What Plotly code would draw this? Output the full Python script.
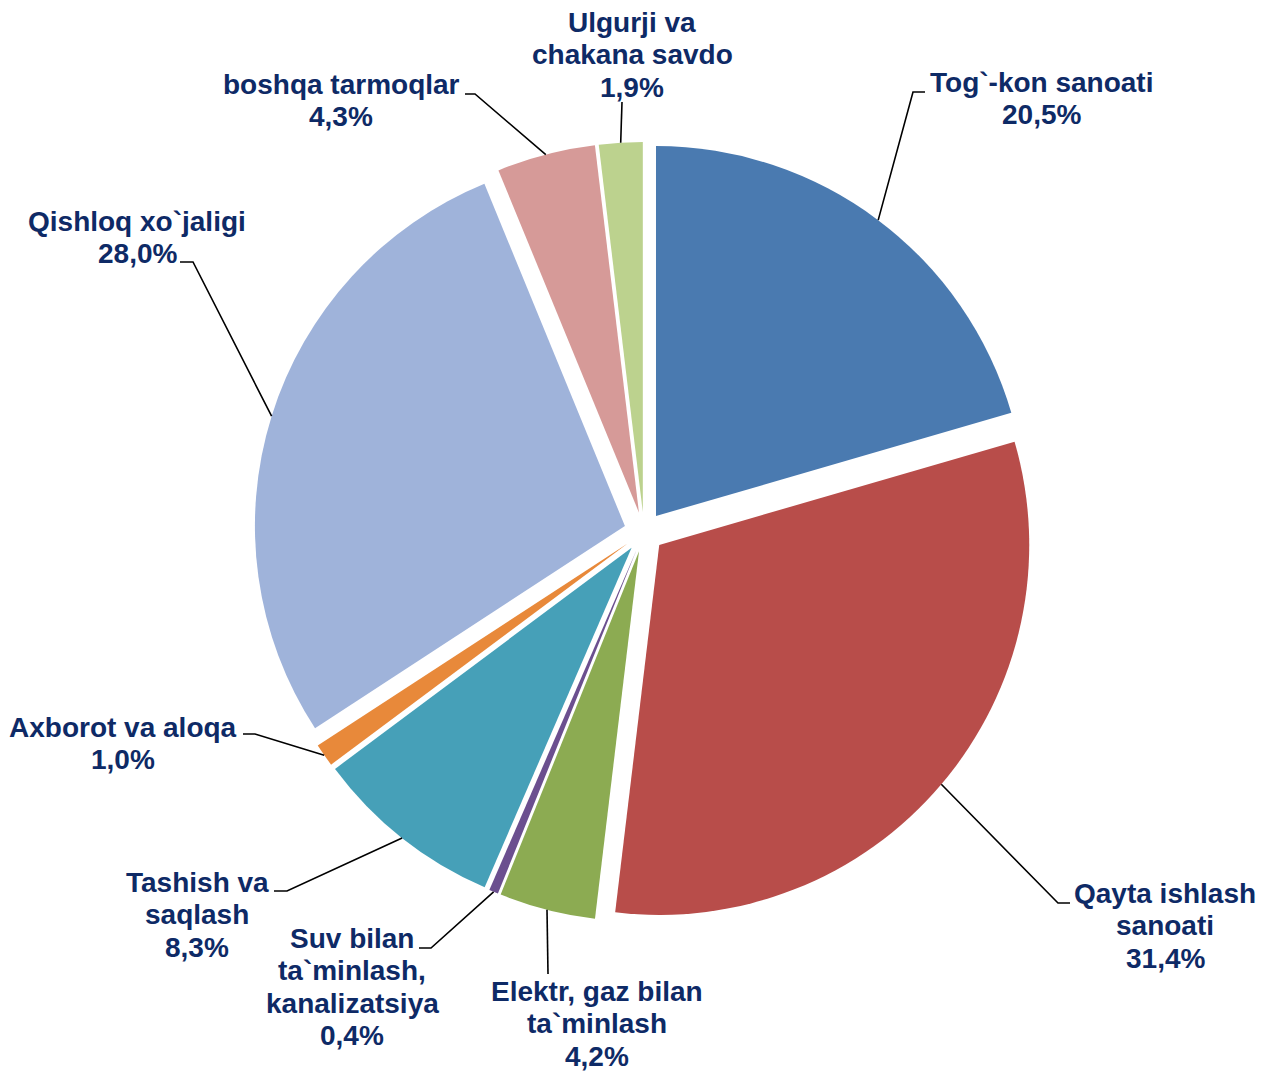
import math
import plotly.graph_objects as go

# ---------------- data ----------------
categories = [
    "Tog`-kon sanoati",
    "Qayta ishlash sanoati",
    "Elektr, gaz bilan ta`minlash",
    "Suv bilan ta`minlash, kanalizatsiya",
    "Tashish va saqlash",
    "Axborot va aloqa",
    "Qishloq xo`jaligi",
    "boshqa tarmoqlar",
    "Ulgurji va chakana savdo",
]
shares = [20.5, 31.4, 4.2, 0.4, 8.3, 1.0, 28.0, 4.3, 1.9]
label_lines = [
    ["Tog`-kon sanoati"],
    ["Qayta ishlash", "sanoati"],
    ["Elektr, gaz bilan", "ta`minlash"],
    ["Suv bilan", "ta`minlash,", "kanalizatsiya"],
    ["Tashish va", "saqlash"],
    ["Axborot va aloqa"],
    ["Qishloq xo`jaligi"],
    ["boshqa tarmoqlar"],
    ["Ulgurji va", "chakana savdo"],
]

# ---------------- style ----------------
W, H = 1266, 1071
CX, CY = 644, 532          # pie centre (px)
R = 370                    # pie radius (px)
PULL = 0.054
colors = ["#4a7ab0", "#b84d4a", "#8cab52", "#6b4f8f", "#46a0b8",
          "#e8893a", "#9fb3da", "#d69a98", "#bcd28e"]
TEXT_COLOR = "#0e2a66"
FONT = "Liberation Sans, Arial, sans-serif"
FONT_SIZE = 28
LINE_STEP = 32.6

# label block: centre x and first-line centre y (px)
label_pos = [(1041, 82), (1165, 893), (597, 991), (352, 938), (197, 882),
             (123, 727), (137, 221), (341, 84), (632, 22)]
# leader line tails near labels (px), ending at the slice
leader_tails = [
    [(925, 92), (913, 92)],
    [(1070, 903), (1058, 903)],
    [(548, 974)],
    [(419, 948), (431, 948)],
    [(274, 891), (287, 891)],
    [(243, 734), (255, 734)],
    [(180, 262), (193, 262)],
    [(465, 94), (475, 94)],
    [(622, 102)],
]

half = R * (1 + PULL)
dom_x = [(CX - half) / W, (CX + half) / W]
dom_y = [(H - (CY + half)) / H, (H - (CY - half)) / H]

fig = go.Figure()
fig.add_trace(go.Pie(
    labels=categories,
    values=shares,
    sort=False,
    direction="clockwise",
    rotation=0,
    pull=[PULL] * len(shares),
    marker=dict(colors=colors, line=dict(width=0)),
    textinfo="none",
    hoverinfo="skip",
    showlegend=False,
    domain=dict(x=dom_x, y=dom_y),
))

# overlay axes in pixel space for labels and leader lines
fig.add_trace(go.Scatter(x=[0, W], y=[0, H], mode="markers",
                         marker=dict(opacity=0), hoverinfo="skip",
                         showlegend=False))

total = sum(shares)
cum = 0.0
shapes = []
annotations = []
for i, v in enumerate(shares):
    mid = (cum + v / 2) / total * 2 * math.pi
    cum += v
    ax = CX + half * math.sin(mid)
    ay = CY - half * math.cos(mid)
    pts = leader_tails[i] + [(ax, ay)]
    path = "M " + " L ".join(f"{x:.1f},{y:.1f}" for x, y in pts)
    shapes.append(dict(type="path", path=path, xref="x", yref="y",
                       line=dict(color="black", width=1.6), layer="above"))
    pct = f"{v:.1f}".replace(".", ",") + "%"
    lx, ly = label_pos[i]
    for k, line in enumerate(label_lines[i] + [pct]):
        annotations.append(dict(x=lx, y=ly + k * LINE_STEP, xref="x", yref="y",
                                text=line, showarrow=False,
                                xanchor="center", yanchor="middle",
                                font=dict(family=FONT, size=FONT_SIZE,
                                          color=TEXT_COLOR, weight="bold")))

fig.update_layout(
    width=W, height=H,
    margin=dict(l=0, r=0, t=0, b=0),
    paper_bgcolor="white", plot_bgcolor="white",
    xaxis=dict(range=[0, W], visible=False, domain=[0, 1], fixedrange=True),
    yaxis=dict(range=[H, 0], visible=False, domain=[0, 1], fixedrange=True),
    shapes=shapes,
    annotations=annotations,
    hovermode=False,
)

fig.write_html("out.html", post_script="document.body.style.margin='0';",
               config={"displayModeBar": False})
